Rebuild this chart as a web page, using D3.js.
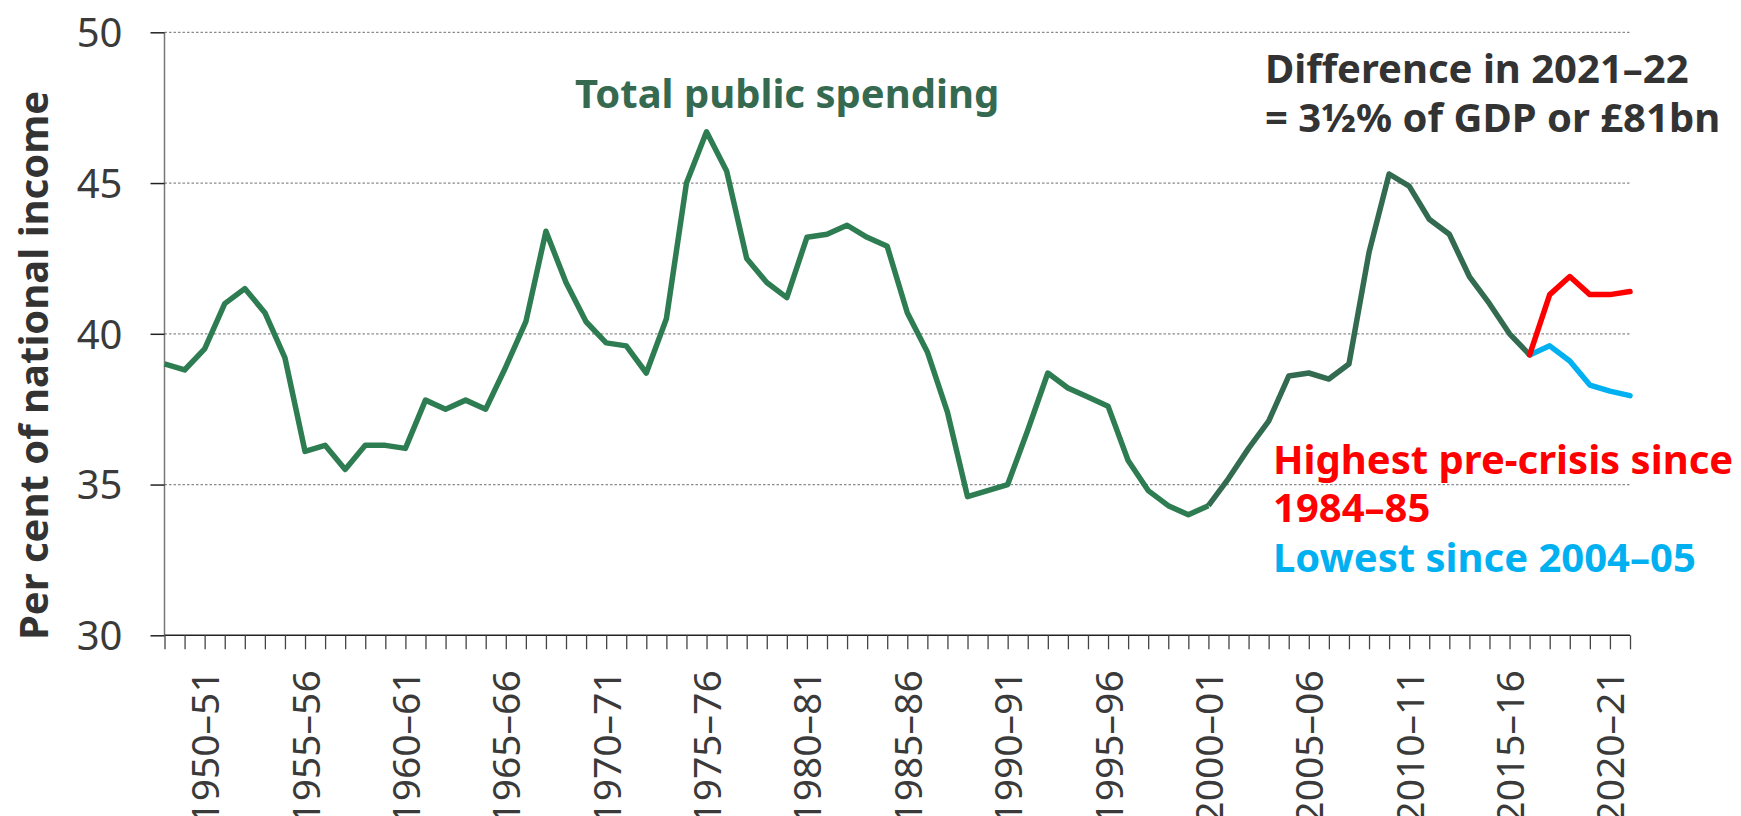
<!DOCTYPE html>
<html><head><meta charset="utf-8">
<script src="https://cdn.jsdelivr.net/npm/d3@7"></script>
<style>
html,body{margin:0;padding:0;background:#fff;}
svg{display:block;}
text{font-family:"Noto Sans","Open Sans",sans-serif;}
</style></head>
<body>
<svg id="chart" width="1741" height="816"></svg>
<script>
const categories = ["1948–49","1949–50","1950–51","1951–52","1952–53","1953–54","1954–55","1955–56","1956–57","1957–58",
"1958–59","1959–60","1960–61","1961–62","1962–63","1963–64","1964–65","1965–66","1966–67","1967–68",
"1968–69","1969–70","1970–71","1971–72","1972–73","1973–74","1974–75","1975–76","1976–77","1977–78",
"1978–79","1979–80","1980–81","1981–82","1982–83","1983–84","1984–85","1985–86","1986–87","1987–88",
"1988–89","1989–90","1990–91","1991–92","1992–93","1993–94","1994–95","1995–96","1996–97","1997–98",
"1998–99","1999–00","2000–01","2001–02","2002–03","2003–04","2004–05","2005–06","2006–07","2007–08",
"2008–09","2009–10","2010–11","2011–12","2012–13","2013–14","2014–15","2015–16","2016–17","2017–18",
"2018–19","2019–20","2020–21","2021–22"];

// Total public spending, % of national income, 1948–49 to 2016–17
const totalSpending = [39.0,38.8,39.5,41.0,41.5,40.7,39.2,36.1,36.3,35.5,
36.3,36.3,36.2,37.8,37.5,37.8,37.5,38.9,40.4,43.4,
41.7,40.4,39.7,39.6,38.7,40.5,45.0,46.7,45.4,42.5,
41.7,41.2,43.2,43.3,43.6,43.2,42.9,40.7,39.4,37.4,
34.6,34.8,35.0,36.8,38.7,38.2,37.9,37.6,35.8,34.8,
34.3,34.0,34.3,35.2,36.2,37.1,38.6,38.7,38.5,39.0,
42.7,45.3,44.9,43.8,43.3,41.9,41.0,40.0,39.3];

// Projections 2016–17 to 2021–22
const projCategories = ["2016–17","2017–18","2018–19","2019–20","2020–21","2021–22"];
const highPath = [39.3,41.3,41.9,41.3,41.3,41.4];
const lowPath  = [39.3,39.6,39.1,38.3,38.1,37.95];

const yTicks = [30,35,40,45,50];
const xLabelCats = ["1950–51","1955–56","1960–61","1965–66","1970–71","1975–76","1980–81","1985–86",
"1990–91","1995–96","2000–01","2005–06","2010–11","2015–16","2020–21"];
const splitCategory = "2000–01";

const svg = d3.select("#chart");
const mLeft = 164.5, mRight = 1630, mTop = 32.3, mBottom = 635.3;

const x = d3.scalePoint().domain(categories).range([mLeft, mRight]);
const y = d3.scaleLinear().domain([30, 50]).range([mBottom, mTop]);

// gridlines
svg.append("g").selectAll("line").data(yTicks.filter(d => d > 30)).join("line")
  .attr("x1", mLeft).attr("x2", mRight)
  .attr("y1", d => y(d)).attr("y2", d => y(d))
  .attr("stroke", "#8a8a8a").attr("stroke-width", 1.2).attr("stroke-dasharray", "2.5,2");

// y axis
const yAxis = svg.append("g").attr("transform", `translate(${mLeft},0)`)
  .call(d3.axisLeft(y).tickValues(yTicks).tickSize(14).tickPadding(28).tickFormat(d3.format("d")));
yAxis.select(".domain").attr("stroke", "#777").attr("stroke-width", 1.5).attr("d", `M0,${mTop}V${mBottom}`);
yAxis.selectAll(".tick line").attr("stroke", "#222").attr("stroke-width", 1.5);
yAxis.selectAll(".tick text").attr("font-size", 40).attr("fill", "#3a3a3a")
  .attr("font-family", "Noto Sans").attr("dy", "0.36em");

// x axis
const xAxis = svg.append("g").attr("transform", `translate(0,${mBottom})`)
  .call(d3.axisBottom(x).tickSize(14).tickFormat(d => xLabelCats.includes(d) ? d : ""));
xAxis.select(".domain").attr("stroke", "#222").attr("stroke-width", 1.5).attr("d", `M${mLeft},0H${mRight}`);
xAxis.selectAll(".tick line").attr("stroke", "#444").attr("stroke-width", 1.3);
xAxis.selectAll(".tick text")
  .attr("font-size", 39).attr("fill", "#3a3a3a").attr("font-family", "Noto Sans")
  .attr("text-anchor", "end")
  .attr("transform", "rotate(-90)")
  .attr("x", -35).attr("y", 0).attr("dy", "0.36em");

// y title
svg.append("text")
  .attr("transform", "translate(48,365.5) rotate(-90)")
  .attr("text-anchor", "middle").attr("font-size", 40).attr("font-weight", "bold").attr("fill", "#333")
  .text("Per cent of national income");

// lines
const line = d3.line().x(d => x(d[0])).y(d => y(d[1]));
const histPairs = categories.slice(0, totalSpending.length).map((c, i) => [c, totalSpending[i]]);
const splitIdx = categories.indexOf(splitCategory);
svg.append("path").datum(histPairs.slice(0, splitIdx + 1)).attr("d", line)
  .attr("fill", "none").attr("stroke", "#2e7d52").attr("stroke-width", 5.5).attr("stroke-linejoin", "round");
svg.append("path").datum(histPairs.slice(splitIdx)).attr("d", line)
  .attr("fill", "none").attr("stroke", "#336b50").attr("stroke-width", 5.5).attr("stroke-linejoin", "round");
svg.append("path").datum(projCategories.map((c, i) => [c, lowPath[i]])).attr("d", line)
  .attr("fill", "none").attr("stroke", "#00b0f0").attr("stroke-width", 5.5).attr("stroke-linejoin", "round").attr("stroke-linecap", "round");
svg.append("path").datum(projCategories.map((c, i) => [c, highPath[i]])).attr("d", line)
  .attr("fill", "none").attr("stroke", "#ff0000").attr("stroke-width", 5.5).attr("stroke-linejoin", "round").attr("stroke-linecap", "round");

// annotations
function label(txt, xx, yy, color) {
  svg.append("text").attr("x", xx).attr("y", yy).attr("font-size", 40).attr("font-weight", "bold")
    .attr("fill", color).text(txt);
}
label("Total public spending", 575, 108, "#356a50");
label("Difference in 2021–22", 1265, 83, "#333");
label("= 3½% of GDP or £81bn", 1265, 132, "#333");
label("Highest pre-crisis since", 1273, 474, "#ff0000");
label("1984–85", 1273, 522, "#ff0000");
label("Lowest since 2004–05", 1273, 572, "#00b0f0");
</script>
</body></html>
